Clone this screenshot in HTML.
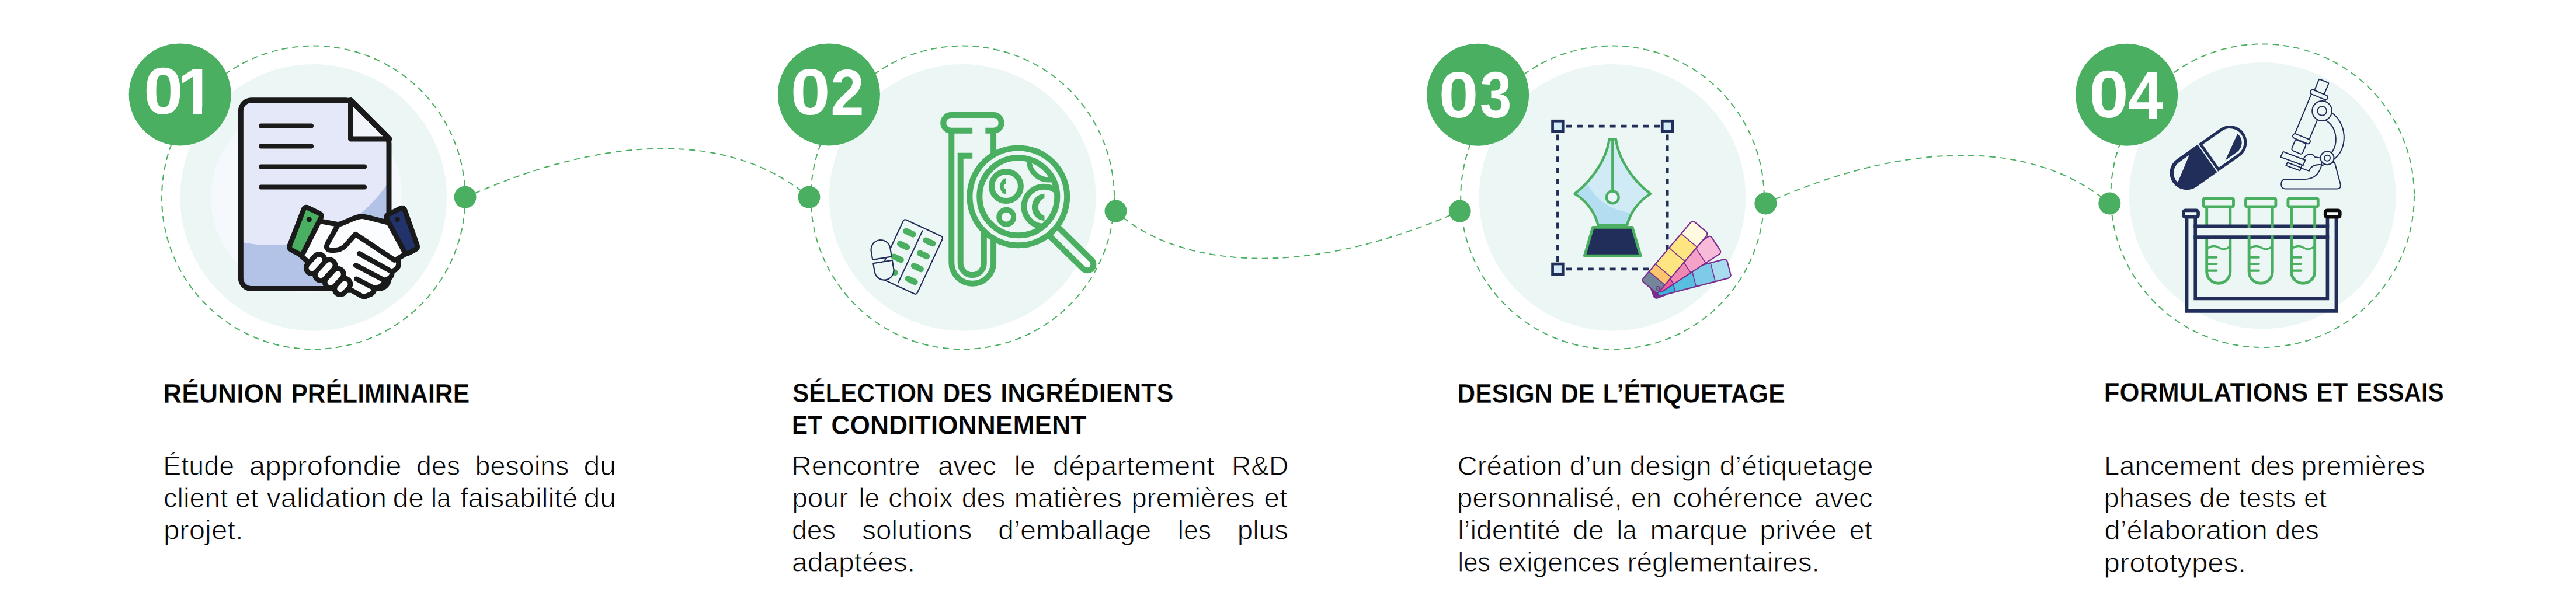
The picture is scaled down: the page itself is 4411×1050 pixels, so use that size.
<!DOCTYPE html>
<html lang="fr"><head><meta charset="utf-8"><title>Processus</title>
<style>
html,body{margin:0;padding:0;background:#fff;}
body{width:4411px;height:1050px;overflow:hidden;}
svg{display:block;}
text{font-family:"Liberation Sans",sans-serif;white-space:pre;}
</style></head><body>
<svg width="4411" height="1050" viewBox="0 0 4411 1050">
<circle cx="536.8" cy="338.4" r="259.8" fill="none" stroke="#4AAF60" stroke-width="2" stroke-linecap="round" stroke-dasharray="9 9"/>
<circle cx="536.8" cy="338.4" r="228.3" fill="#ECF7F5"/>
<circle cx="1648.2" cy="338.4" r="259.8" fill="none" stroke="#4AAF60" stroke-width="2" stroke-linecap="round" stroke-dasharray="9 9"/>
<circle cx="1648.2" cy="338.4" r="228.3" fill="#ECF7F5"/>
<circle cx="2761" cy="338.4" r="259.8" fill="none" stroke="#4AAF60" stroke-width="2" stroke-linecap="round" stroke-dasharray="9 9"/>
<circle cx="2761" cy="338.4" r="228.3" fill="#ECF7F5"/>
<circle cx="3874.2" cy="335.2" r="259.8" fill="none" stroke="#4AAF60" stroke-width="2" stroke-linecap="round" stroke-dasharray="9 9"/>
<circle cx="3874.2" cy="335.2" r="228.3" fill="#ECF7F5"/>
<path d="M797,337.7 C794.3,343.5 1159.6,147.6 1385.4,337.7" fill="none" stroke="#4AAF60" stroke-width="2" stroke-linecap="round" stroke-dasharray="9 9"/>
<path d="M1910.5,361.6 C2000,445.5 2206.4,491.4 2499.7,361.6" fill="none" stroke="#4AAF60" stroke-width="2" stroke-linecap="round" stroke-dasharray="9 9"/>
<path d="M3023.4,348.5 C3044.9,339.6 3393.6,167.7 3612.3,348.5" fill="none" stroke="#4AAF60" stroke-width="2" stroke-linecap="round" stroke-dasharray="9 9"/>
<circle cx="796.5" cy="337.7" r="19" fill="#4AAF60"/>
<circle cx="1385.4" cy="337.7" r="19" fill="#4AAF60"/>
<circle cx="1910.5" cy="361.6" r="19" fill="#4AAF60"/>
<circle cx="2499.7" cy="361.6" r="19" fill="#4AAF60"/>
<circle cx="3023.4" cy="348.5" r="19" fill="#4AAF60"/>
<circle cx="3612.3" cy="348.5" r="19" fill="#4AAF60"/>
<circle cx="308.2" cy="161.9" r="87.5" fill="#4AAF60"/>
<circle cx="1419.4" cy="161.9" r="87.5" fill="#4AAF60"/>
<circle cx="2530.6" cy="162.2" r="87.5" fill="#4AAF60"/>
<circle cx="3641.6" cy="162.2" r="87.5" fill="#4AAF60"/>
<circle cx="525" cy="338" r="164" fill="#F5F8FC"/>
<clipPath id="docclip"><path d="M430.3,171.8 H592 Q600,171.8 606,177 L660.5,231.5 Q666,237 666,246 V476.5 a18,18 0 0 1 -18,18 H430.3 a18,18 0 0 1 -18,-18 V189.8 a18,18 0 0 1 18,-18 Z"/></clipPath>
<path d="M430.3,171.8 H592 Q600,171.8 606,177 L660.5,231.5 Q666,237 666,246 V476.5 a18,18 0 0 1 -18,18 H430.3 a18,18 0 0 1 -18,-18 V189.8 a18,18 0 0 1 18,-18 Z" fill="#B3C3E7"/>
<circle cx="465" cy="180" r="240" fill="#E4E8F8" clip-path="url(#docclip)"/>
<path d="M600.5,171.5 V238 H667 Z" fill="#F3F5FC" stroke="#1A1A1A" stroke-width="9" stroke-linejoin="round"/>
<path d="M430.3,171.8 H592 Q600,171.8 606,177 L660.5,231.5 Q666,237 666,246 V476.5 a18,18 0 0 1 -18,18 H430.3 a18,18 0 0 1 -18,-18 V189.8 a18,18 0 0 1 18,-18 Z" fill="none" stroke="#1A1A1A" stroke-width="9" stroke-linejoin="round"/>
<line x1="447" y1="215.6" x2="533" y2="215.6" stroke="#1A1A1A" stroke-width="8" stroke-linecap="round"/>
<line x1="447" y1="250.4" x2="533" y2="250.4" stroke="#1A1A1A" stroke-width="8" stroke-linecap="round"/>
<line x1="447" y1="285.6" x2="624" y2="285.6" stroke="#1A1A1A" stroke-width="8" stroke-linecap="round"/>
<line x1="447" y1="320.4" x2="624" y2="320.4" stroke="#1A1A1A" stroke-width="8" stroke-linecap="round"/>
<g transform="translate(490,340) scale(0.228415)" stroke-linejoin="round" stroke-linecap="round">
<path d="M200,160 L390,195 C450,180 530,128 575,135 L615,142 L800,190 L930,390 L880,425 L830,455 C852,480 846,522 812,538 L792,548 C800,575 780,600 752,608 L736,613 C738,640 715,662 682,668 L662,673 C662,700 640,722 612,726 C598,737 580,737 565,731 L490,688 L430,690 L406,678 L333,628 L260,572 L193,521 L150,463 L80,400 Z" fill="#FCFDFE" stroke="#1A1A1A" stroke-width="38"/>
<path d="M390,195 L310,338 C292,372 312,390 345,388 C395,388 418,378 442,355 L520,268 L812,462" fill="none" stroke="#1A1A1A" stroke-width="38"/>
<line x1="548" y1="413" x2="785" y2="545" stroke="#1A1A1A" stroke-width="38"/>
<line x1="522" y1="501" x2="730" y2="610" stroke="#1A1A1A" stroke-width="38"/>
<line x1="527" y1="603" x2="655" y2="670" stroke="#1A1A1A" stroke-width="38"/>
<line x1="193.0" y1="520.6" x2="247.0" y2="461.4" stroke="#1A1A1A" stroke-width="124"/>
<line x1="259.6" y1="572.5" x2="324.4" y2="501.5" stroke="#1A1A1A" stroke-width="124"/>
<line x1="333.0" y1="627.6" x2="387.0" y2="568.4" stroke="#1A1A1A" stroke-width="124"/>
<line x1="405.8" y1="677.7" x2="438.2" y2="642.3" stroke="#1A1A1A" stroke-width="124"/>
<line x1="193.0" y1="520.6" x2="247.0" y2="461.4" stroke="#FCFDFE" stroke-width="48"/>
<line x1="259.6" y1="572.5" x2="324.4" y2="501.5" stroke="#FCFDFE" stroke-width="48"/>
<line x1="333.0" y1="627.6" x2="387.0" y2="568.4" stroke="#FCFDFE" stroke-width="48"/>
<line x1="405.8" y1="677.7" x2="438.2" y2="642.3" stroke="#FCFDFE" stroke-width="48"/>
<path d="M130.6,82.3 Q140.0,58.0 163.4,69.3 L248.6,110.7 Q272.0,122.0 260.3,145.2 L129.7,404.8 Q118.0,428.0 95.1,415.6 L40.9,386.4 Q18.0,374.0 27.4,349.7 Z" fill="#4AAF60" stroke="#1A1A1A" stroke-width="38"/>
<path d="M755.3,154.9 Q743.0,132.0 766.2,120.2 L856.8,73.8 Q880.0,62.0 888.7,86.5 L981.3,347.5 Q990.0,372.0 966.9,384.0 L921.1,408.0 Q898.0,420.0 885.7,397.1 Z" fill="#22336B" stroke="#1A1A1A" stroke-width="38"/>
<circle cx="172" cy="157" r="20" fill="#1A1A1A"/><circle cx="833" cy="157" r="20" fill="#1A1A1A"/>
</g>
<g transform="translate(1558.7,440) rotate(25)">
<rect x="-37" y="-54.5" width="74" height="109" rx="4" fill="#ECF7F5" stroke="#222E5A" stroke-width="2.2"/>
<line x1="0" y1="-49" x2="0" y2="49" stroke="#222E5A" stroke-width="2.2" stroke-linecap="round"/>
<rect x="-30.5" y="-42.2" width="23.4" height="10.4" rx="5.2" fill="#4AAF60"/>
<rect x="-30.5" y="-18.0" width="23.4" height="10.4" rx="5.2" fill="#4AAF60"/>
<rect x="-30.5" y="6.2" width="23.4" height="10.4" rx="5.2" fill="#4AAF60"/>
<rect x="-30.5" y="30.4" width="23.4" height="10.4" rx="5.2" fill="#4AAF60"/>
<rect x="7.1" y="-42.2" width="23.4" height="10.4" rx="5.2" fill="#4AAF60"/>
<rect x="7.1" y="-18.0" width="23.4" height="10.4" rx="5.2" fill="#4AAF60"/>
<rect x="7.1" y="6.2" width="23.4" height="10.4" rx="5.2" fill="#4AAF60"/>
<rect x="7.1" y="30.4" width="23.4" height="10.4" rx="5.2" fill="#4AAF60"/>
</g>
<g transform="translate(1511,445.3) rotate(-9.5)" fill="#ECF7F5" stroke="#222E5A" stroke-width="2.2" stroke-linejoin="round">
<path d="M-16.5,-3.2 V-18 a16.5,16.5 0 0 1 33,0 V-3.2 Z"/>
<path d="M-16.5,3.2 V18 a16.5,16.5 0 0 0 33,0 V3.2 Z"/>
</g>
<path d="M1665.2,223.8 H1628.6 a13.35,13.35 0 0 1 0,-26.7 H1701.4 a13.35,13.35 0 0 1 0,26.7 H1687.4" fill="none" stroke="#4AAF60" stroke-width="10"/>
<path d="M1629.3,223.8 V449.8 a35.9,35.9 0 0 0 71.8,0 V223.8" fill="none" stroke="#4AAF60" stroke-width="10"/>
<path d="M1665.2,266.8 H1644.7 V451 a20.05,20.05 0 0 0 40.1,0 V380" fill="none" stroke="#4AAF60" stroke-width="10"/>
<g transform="translate(1743.8,336.8) rotate(44.5)"><rect x="70" y="-10.5" width="106" height="21" rx="10.5" fill="none" stroke="#4AAF60" stroke-width="10"/></g>
<circle cx="1743.8" cy="336.8" r="83.4" fill="#ECF7F5" stroke="#4AAF60" stroke-width="10"/>
<clipPath id="lens"><circle cx="1743.8" cy="336.8" r="66.5"/></clipPath>
<g clip-path="url(#lens)">
<circle cx="1722.9" cy="319" r="25" fill="none" stroke="#4AAF60" stroke-width="10"/>
<circle cx="1723.2" cy="371.7" r="12.5" fill="none" stroke="#4AAF60" stroke-width="9"/>
<circle cx="1787.5" cy="353.8" r="34" fill="none" stroke="#4AAF60" stroke-width="10"/>
<circle cx="1796" cy="274" r="34" fill="none" stroke="#4AAF60" stroke-width="9"/>
<g transform="translate(1600,170) scale(0.32605)" fill="#4AAF60"><path d="M376,415 C335,420 335,495 376,500 L376,472 C360,466 360,450 376,444 Z"/></g>
<g transform="translate(1600,300) scale(0.32605)" fill="#4AAF60"><path d="M578,97 C490,105 490,232 578,240 L578,214 C535,200 535,135 578,122 Z"/></g>
</g>
<circle cx="1743.8" cy="336.8" r="66.5" fill="none" stroke="#4AAF60" stroke-width="10"/>
<path d="M2681.2,216.1 H2843" stroke="#222E5A" stroke-width="4.7" stroke-dasharray="9.8 9.1" fill="none"/>
<path d="M2681.2,460.9 H2843" stroke="#222E5A" stroke-width="4.7" stroke-dasharray="9.8 9.1" fill="none"/>
<path d="M2667.4,230.4 V449" stroke="#222E5A" stroke-width="4.7" stroke-dasharray="9.8 9.1" fill="none"/>
<path d="M2855.2,230.4 V449" stroke="#222E5A" stroke-width="4.7" stroke-dasharray="9.8 9.1" fill="none"/>
<rect x="2658.55" y="207.25" width="17.7" height="17.7" fill="#D3ECF7" stroke="#222E5A" stroke-width="4.7"/>
<rect x="2846.25" y="207.25" width="17.7" height="17.7" fill="#D3ECF7" stroke="#222E5A" stroke-width="4.7"/>
<rect x="2658.55" y="452.05" width="17.7" height="17.7" fill="#D3ECF7" stroke="#222E5A" stroke-width="4.7"/>
<clipPath id="nibc"><path d="M2755.6,238.5 H2767 C2770,262 2785,300 2826,332 C2806,345 2792,362 2786,386 H2736.6 C2730.6,362 2717.6,345 2696.6,332 C2736.6,300 2752.6,262 2755.6,238.5 Z"/></clipPath>
<path d="M2755.6,238.5 H2767 C2770,262 2785,300 2826,332 C2806,345 2792,362 2786,386 H2736.6 C2730.6,362 2717.6,345 2696.6,332 C2736.6,300 2752.6,262 2755.6,238.5 Z" fill="#D0EAF6"/>
<path d="M2690,296 L2712,296 C2722,335 2750,360 2800,366 L2800,392 L2690,392 Z" fill="#B3DDF0" clip-path="url(#nibc)"/>
<path d="M2755.6,238.5 H2767 C2770,262 2785,300 2826,332 C2806,345 2792,362 2786,386 H2736.6 C2730.6,362 2717.6,345 2696.6,332 C2736.6,300 2752.6,262 2755.6,238.5 Z" fill="none" stroke="#4AAF60" stroke-width="4.3" stroke-linejoin="round"/>
<line x1="2761.3" y1="239" x2="2761.3" y2="328" stroke="#4AAF60" stroke-width="4.3"/>
<circle cx="2761.3" cy="337.9" r="10.4" fill="#E9F4FB" stroke="#4AAF60" stroke-width="4.3"/>
<path d="M2727.5,389.3 H2795.1 L2809.3,438 H2713.3 Z" fill="#222E5A" stroke="#4AAF60" stroke-width="4.7" stroke-linejoin="round"/>
<g transform="translate(2790,360) scale(0.27739)">
<path d="M135,488 L151,533 Q158,546 174,542 L226,523 L190,490 Z" fill="#7B2D8E" stroke="#7B2D8E" stroke-width="8" stroke-linejoin="round"/>
<g transform="translate(150,417) rotate(-14.6)">
<clipPath id="swb"><rect x="0" y="0" width="465" height="119" rx="18"/></clipPath>
<g clip-path="url(#swb)">
<rect x="0.0" y="-5" width="108.0" height="129" fill="#38B4DC"/>
<rect x="107.0" y="-5" width="134.0" height="129" fill="#58BFE1"/>
<rect x="239.9" y="-5" width="123.8" height="129" fill="#7DCBE8"/>
<rect x="362.7" y="-5" width="103.3" height="129" fill="#A9DCEF"/>
<line x1="107.0" y1="0" x2="107.0" y2="119" stroke="#7B2D8E" stroke-width="6"/>
<line x1="239.9" y1="0" x2="239.9" y2="119" stroke="#7B2D8E" stroke-width="6"/>
<line x1="362.7" y1="0" x2="362.7" y2="119" stroke="#7B2D8E" stroke-width="6"/>
</g>
<rect x="0" y="0" width="465" height="119" rx="18" fill="none" stroke="#7B2D8E" stroke-width="8"/>
</g>
<g transform="translate(123.4,401.4) rotate(-33.2)">
<clipPath id="swp"><rect x="0" y="0" width="450" height="128" rx="18"/></clipPath>
<g clip-path="url(#swp)">
<rect x="0.0" y="-5" width="96.8" height="138" fill="#EF5F9B"/>
<rect x="95.8" y="-5" width="127.0" height="138" fill="#F088B6"/>
<rect x="221.8" y="-5" width="111.2" height="138" fill="#F4A2C8"/>
<rect x="332.1" y="-5" width="118.9" height="138" fill="#F7BAD8"/>
<line x1="95.8" y1="0" x2="95.8" y2="128" stroke="#7B2D8E" stroke-width="6"/>
<line x1="221.8" y1="0" x2="221.8" y2="128" stroke="#7B2D8E" stroke-width="6"/>
<line x1="332.1" y1="0" x2="332.1" y2="128" stroke="#7B2D8E" stroke-width="6"/>
</g>
<rect x="0" y="0" width="450" height="128" rx="18" fill="none" stroke="#7B2D8E" stroke-width="8"/>
</g>
<g transform="translate(74.7,434.2) rotate(-49.7)">
<clipPath id="swy"><rect x="0" y="0" width="488" height="128" rx="18"/></clipPath>
<g clip-path="url(#swy)">
<rect x="0.0" y="-5" width="73.7" height="138" fill="#74879A"/>
<rect x="72.7" y="-5" width="62.5" height="138" fill="#FCC56D"/>
<rect x="134.2" y="-5" width="130.8" height="138" fill="#FDE681"/>
<rect x="264.0" y="-5" width="116.2" height="138" fill="#FDE681"/>
<rect x="379.2" y="-5" width="109.8" height="138" fill="#FFF9E0"/>
<line x1="72.7" y1="0" x2="72.7" y2="128" stroke="#7B2D8E" stroke-width="6"/>
<line x1="134.2" y1="0" x2="134.2" y2="128" stroke="#7B2D8E" stroke-width="6"/>
<line x1="264.0" y1="0" x2="264.0" y2="128" stroke="#7B2D8E" stroke-width="6"/>
<line x1="379.2" y1="0" x2="379.2" y2="128" stroke="#7B2D8E" stroke-width="6"/>
</g>
<rect x="0" y="0" width="488" height="128" rx="18" fill="none" stroke="#7B2D8E" stroke-width="8"/>
</g>
<circle cx="176" cy="482.5" r="11.5" fill="#74879A" stroke="#7B2D8E" stroke-width="5"/><circle cx="176" cy="482.5" r="4" fill="#5C7088"/>
</g>
<g transform="translate(3781.4,270.15) rotate(-35.2)">
<path d="M-2,-29 H-45.2 a29,29 0 0 0 0,58 H-2 Z" fill="#222E5A"/>
<path d="M-24,-22.5 H-45.2 A22.5,22.5 0 0 0 -67.2,4.5 Z" fill="#ECF7F5"/>
<path d="M2.5,-26.5 H45.2 a26.5,26.5 0 0 1 0,53 H2.5 Z" fill="none" stroke="#222E5A" stroke-width="5" stroke-linejoin="miter"/>
<path d="M64.6,-4.7 A20,20 0 0 1 45.2,20.5 H21 Z" fill="#222E5A"/>
</g>
<g transform="translate(3720,320) scale(0.37515)">
<clipPath id="tclip"><rect x="300" y="0" width="400" height="187"/><rect x="300" y="222" width="400" height="300"/></clipPath>
<rect x="141.5" y="53.5" width="137" height="37" rx="6" fill="none" stroke="#4AAF60" stroke-width="13"/>
<path d="M156.5,97 V387 a53.5,53.5 0 0 0 107,0 V97" fill="none" stroke="#4AAF60" stroke-width="13"/>
<path d="M161,280 C183,268 195,268 211,277 S239,290 259,274" fill="none" stroke="#4AAF60" stroke-width="9"/>
<line x1="161" y1="322" x2="201" y2="322" stroke="#4AAF60" stroke-width="11" stroke-linecap="round"/>
<line x1="161" y1="352" x2="201" y2="352" stroke="#4AAF60" stroke-width="11" stroke-linecap="round"/>
<line x1="161" y1="383" x2="201" y2="383" stroke="#4AAF60" stroke-width="11" stroke-linecap="round"/>
<rect x="105" y="180" width="600" height="50" fill="#ECF7F5"/>
<path d="M97,179.5 H715 M97,229.5 H715" stroke="#222E5A" stroke-width="15" fill="none"/>
<g clip-path="url(#tclip)"><rect x="334.5" y="53.5" width="137" height="37" rx="6" fill="none" stroke="#4AAF60" stroke-width="13"/>
<path d="M349.5,97 V387 a53.5,53.5 0 0 0 107,0 V97" fill="none" stroke="#4AAF60" stroke-width="13"/>
<path d="M354,280 C376,268 388,268 404,277 S432,290 452,274" fill="none" stroke="#4AAF60" stroke-width="9"/>
<line x1="354" y1="322" x2="394" y2="322" stroke="#4AAF60" stroke-width="11" stroke-linecap="round"/>
<line x1="354" y1="352" x2="394" y2="352" stroke="#4AAF60" stroke-width="11" stroke-linecap="round"/>
<line x1="354" y1="383" x2="394" y2="383" stroke="#4AAF60" stroke-width="11" stroke-linecap="round"/><rect x="527.5" y="53.5" width="137" height="37" rx="6" fill="none" stroke="#4AAF60" stroke-width="13"/>
<path d="M542.5,97 V387 a53.5,53.5 0 0 0 107,0 V97" fill="none" stroke="#4AAF60" stroke-width="13"/>
<path d="M547,280 C569,268 581,268 597,277 S625,290 645,274" fill="none" stroke="#4AAF60" stroke-width="9"/>
<line x1="547" y1="322" x2="587" y2="322" stroke="#4AAF60" stroke-width="11" stroke-linecap="round"/>
<line x1="547" y1="352" x2="587" y2="352" stroke="#4AAF60" stroke-width="11" stroke-linecap="round"/>
<line x1="547" y1="383" x2="587" y2="383" stroke="#4AAF60" stroke-width="11" stroke-linecap="round"/></g>
<path d="M65.5,135 V567.5 H747.5 V135" stroke="#222E5A" stroke-width="15" fill="none"/>
<path d="M104.5,135 V510.5 H707.5 V135" stroke="#222E5A" stroke-width="15" fill="none"/>
<rect x="50.5" y="107.5" width="67" height="30" rx="8" fill="#F4FAFA" stroke="#222E5A" stroke-width="15"/>
<rect x="697.5" y="107.5" width="67" height="30" rx="8" fill="#F4FAFA" stroke="#0A0A0A" stroke-width="15"/>
</g>
<g transform="translate(3890,120) scale(0.35874)" fill="#ECF7F5" stroke="#222E5A" stroke-width="5.6" stroke-linejoin="round" stroke-linecap="round">
<path d="M280,200 C362,250 365,375 298,425 L283,398 C318,355 315,275 258,240 Z"/>
<path d="M238,455 C225,500 200,522 150,522 H65 Q45,522 45,545 Q45,567 65,567 H312 Q332,567 328,545 L300,440 Z"/>
<g transform="translate(130,365) rotate(22.5)"><rect x="-28" y="-25" width="56" height="55" rx="10"/></g>
<g transform="translate(184,223) rotate(22.5)"><rect x="-37" y="-110" width="74" height="220" rx="4"/></g>
<g transform="translate(238,80) rotate(22.5)"><rect x="-25" y="-30" width="50" height="60" rx="5"/></g>
<g transform="translate(226,118) rotate(22.5)"><rect x="-44" y="-11" width="88" height="22" rx="10"/></g>
<g transform="translate(142,328) rotate(22.5)"><rect x="-44" y="-11" width="88" height="22" rx="10"/></g>
<path d="M150,430 C160,398 195,395 205,415 L236,420 L238,452 C200,448 185,462 178,482 L140,468 Z"/>
<path d="M55,390 L160,430 L150,455 L42,415 Z"/>
<path d="M75,442 L140,466 L135,480 L68,456 Z"/>
<circle cx="240" cy="195" r="47"/><circle cx="240" cy="195" r="22"/>
<circle cx="265" cy="420" r="32"/><circle cx="265" cy="420" r="14"/>
</g>
<text font-weight="700" font-size="46" fill="#050505" stroke="#fff" stroke-width="0.35"><tspan x="279.3" y="689.6" textLength="204.8" lengthAdjust="spacingAndGlyphs">RÉUNION</tspan> <tspan x="498.4" y="689.6" textLength="305.7" lengthAdjust="spacingAndGlyphs">PRÉLIMINAIRE</tspan></text>
<text font-weight="700" font-size="46" fill="#050505" stroke="#fff" stroke-width="0.35"><tspan x="1356.9" y="689.2" textLength="242.6" lengthAdjust="spacingAndGlyphs">SÉLECTION</tspan> <tspan x="1614.7" y="689.2" textLength="84.1" lengthAdjust="spacingAndGlyphs">DES</tspan> <tspan x="1713.2" y="689.2" textLength="296.3" lengthAdjust="spacingAndGlyphs">INGRÉDIENTS</tspan></text>
<text font-weight="700" font-size="46" fill="#050505" stroke="#fff" stroke-width="0.35"><tspan x="1356.1" y="743.8" textLength="51.9" lengthAdjust="spacingAndGlyphs">ET</tspan> <tspan x="1423.3" y="743.8" textLength="437.1" lengthAdjust="spacingAndGlyphs">CONDITIONNEMENT</tspan></text>
<text font-weight="700" font-size="46" fill="#050505" stroke="#fff" stroke-width="0.35"><tspan x="2495.6" y="689.5" textLength="162.8" lengthAdjust="spacingAndGlyphs">DESIGN</tspan> <tspan x="2672.5" y="689.5" textLength="58.2" lengthAdjust="spacingAndGlyphs">DE</tspan> <tspan x="2744.6" y="689.5" textLength="312.2" lengthAdjust="spacingAndGlyphs">L’ÉTIQUETAGE</tspan></text>
<text font-weight="700" font-size="46" fill="#050505" stroke="#fff" stroke-width="0.35"><tspan x="3602.8" y="688.0" textLength="349.5" lengthAdjust="spacingAndGlyphs">FORMULATIONS</tspan> <tspan x="3966.4" y="688.0" textLength="54.0" lengthAdjust="spacingAndGlyphs">ET</tspan> <tspan x="4034.7" y="688.0" textLength="150.1" lengthAdjust="spacingAndGlyphs">ESSAIS</tspan></text>
<text font-size="46" fill="#080808" stroke="#fff" stroke-width="0.8"><tspan x="279.2" y="814.3" textLength="121.9" lengthAdjust="spacingAndGlyphs">Étude</tspan> <tspan x="426.7" y="814.3" textLength="260.7" lengthAdjust="spacingAndGlyphs">approfondie</tspan> <tspan x="713.0" y="814.3" textLength="75.1" lengthAdjust="spacingAndGlyphs">des</tspan> <tspan x="813.6" y="814.3" textLength="160.8" lengthAdjust="spacingAndGlyphs">besoins</tspan> <tspan x="999.4" y="814.3" textLength="55.9" lengthAdjust="spacingAndGlyphs">du</tspan></text>
<text font-size="46" fill="#080808" stroke="#fff" stroke-width="0.8"><tspan x="280.0" y="869.2" textLength="110.1" lengthAdjust="spacingAndGlyphs">client</tspan> <tspan x="402.4" y="869.2" textLength="40.0" lengthAdjust="spacingAndGlyphs">et</tspan> <tspan x="456.5" y="869.2" textLength="205.7" lengthAdjust="spacingAndGlyphs">validation</tspan> <tspan x="672.6" y="869.2" textLength="53.2" lengthAdjust="spacingAndGlyphs">de</tspan> <tspan x="738.4" y="869.2" textLength="33.4" lengthAdjust="spacingAndGlyphs">la</tspan> <tspan x="788.2" y="869.2" textLength="201.2" lengthAdjust="spacingAndGlyphs">faisabilité</tspan> <tspan x="999.4" y="869.2" textLength="55.9" lengthAdjust="spacingAndGlyphs">du</tspan></text>
<text font-size="46" fill="#080808" stroke="#fff" stroke-width="0.8"><tspan x="279.9" y="923.8" textLength="136.8" lengthAdjust="spacingAndGlyphs">projet.</tspan></text>
<text font-size="46" fill="#080808" stroke="#fff" stroke-width="0.8"><tspan x="1355.3" y="814.3" textLength="220.4" lengthAdjust="spacingAndGlyphs">Rencontre</tspan> <tspan x="1605.9" y="814.3" textLength="99.9" lengthAdjust="spacingAndGlyphs">avec</tspan> <tspan x="1736.7" y="814.3" textLength="35.8" lengthAdjust="spacingAndGlyphs">le</tspan> <tspan x="1802.8" y="814.3" textLength="276.7" lengthAdjust="spacingAndGlyphs">département</tspan> <tspan x="2109.0" y="814.3" textLength="97.3" lengthAdjust="spacingAndGlyphs">R&amp;D</tspan></text>
<text font-size="46" fill="#080808" stroke="#fff" stroke-width="0.8"><tspan x="1356.2" y="869.2" textLength="96.0" lengthAdjust="spacingAndGlyphs">pour</tspan> <tspan x="1470.4" y="869.2" textLength="35.8" lengthAdjust="spacingAndGlyphs">le</tspan> <tspan x="1521.1" y="869.2" textLength="110.5" lengthAdjust="spacingAndGlyphs">choix</tspan> <tspan x="1646.7" y="869.2" textLength="74.6" lengthAdjust="spacingAndGlyphs">des</tspan> <tspan x="1736.6" y="869.2" textLength="184.6" lengthAdjust="spacingAndGlyphs">matières</tspan> <tspan x="1937.4" y="869.2" textLength="211.0" lengthAdjust="spacingAndGlyphs">premières</tspan> <tspan x="2164.6" y="869.2" textLength="39.7" lengthAdjust="spacingAndGlyphs">et</tspan></text>
<text font-size="46" fill="#080808" stroke="#fff" stroke-width="0.8"><tspan x="1355.9" y="924.0" textLength="75.1" lengthAdjust="spacingAndGlyphs">des</tspan> <tspan x="1476.3" y="924.0" textLength="188.0" lengthAdjust="spacingAndGlyphs">solutions</tspan> <tspan x="1709.1" y="924.0" textLength="262.2" lengthAdjust="spacingAndGlyphs">d’emballage</tspan> <tspan x="2017.0" y="924.0" textLength="57.0" lengthAdjust="spacingAndGlyphs">les</tspan> <tspan x="2118.8" y="924.0" textLength="87.1" lengthAdjust="spacingAndGlyphs">plus</tspan></text>
<text font-size="46" fill="#080808" stroke="#fff" stroke-width="0.8"><tspan x="1355.9" y="978.6" textLength="211.2" lengthAdjust="spacingAndGlyphs">adaptées.</tspan></text>
<text font-size="46" fill="#080808" stroke="#fff" stroke-width="0.8"><tspan x="2495.4" y="814.3" textLength="179.6" lengthAdjust="spacingAndGlyphs">Création</tspan> <tspan x="2687.6" y="814.3" textLength="90.3" lengthAdjust="spacingAndGlyphs">d’un</tspan> <tspan x="2790.8" y="814.3" textLength="140.0" lengthAdjust="spacingAndGlyphs">design</tspan> <tspan x="2944.5" y="814.3" textLength="263.1" lengthAdjust="spacingAndGlyphs">d’étiquetage</tspan></text>
<text font-size="46" fill="#080808" stroke="#fff" stroke-width="0.8"><tspan x="2494.9" y="869.2" textLength="282.7" lengthAdjust="spacingAndGlyphs">personnalisé,</tspan> <tspan x="2792.8" y="869.2" textLength="52.2" lengthAdjust="spacingAndGlyphs">en</tspan> <tspan x="2864.2" y="869.2" textLength="223.0" lengthAdjust="spacingAndGlyphs">cohérence</tspan> <tspan x="3106.9" y="869.2" textLength="99.8" lengthAdjust="spacingAndGlyphs">avec</tspan></text>
<text font-size="46" fill="#080808" stroke="#fff" stroke-width="0.8"><tspan x="2496.2" y="924.0" textLength="175.8" lengthAdjust="spacingAndGlyphs">l’identité</tspan> <tspan x="2692.9" y="924.0" textLength="53.9" lengthAdjust="spacingAndGlyphs">de</tspan> <tspan x="2768.5" y="924.0" textLength="34.3" lengthAdjust="spacingAndGlyphs">la</tspan> <tspan x="2825.2" y="924.0" textLength="167.0" lengthAdjust="spacingAndGlyphs">marque</tspan> <tspan x="3013.3" y="924.0" textLength="131.9" lengthAdjust="spacingAndGlyphs">privée</tspan> <tspan x="3166.8" y="924.0" textLength="38.9" lengthAdjust="spacingAndGlyphs">et</tspan></text>
<text font-size="46" fill="#080808" stroke="#fff" stroke-width="0.8"><tspan x="2496.5" y="978.6" textLength="55.6" lengthAdjust="spacingAndGlyphs">les</tspan> <tspan x="2565.3" y="978.6" textLength="208.3" lengthAdjust="spacingAndGlyphs">exigences</tspan> <tspan x="2786.5" y="978.6" textLength="329.3" lengthAdjust="spacingAndGlyphs">réglementaires.</tspan></text>
<text font-size="46" fill="#080808" stroke="#fff" stroke-width="0.8"><tspan x="3603.0" y="814.3" textLength="233.5" lengthAdjust="spacingAndGlyphs">Lancement</tspan> <tspan x="3853.8" y="814.3" textLength="75.4" lengthAdjust="spacingAndGlyphs">des</tspan> <tspan x="3940.6" y="814.3" textLength="212.1" lengthAdjust="spacingAndGlyphs">premières</tspan></text>
<text font-size="46" fill="#080808" stroke="#fff" stroke-width="0.8"><tspan x="3602.7" y="868.8" textLength="150.5" lengthAdjust="spacingAndGlyphs">phases</tspan> <tspan x="3766.0" y="868.8" textLength="53.4" lengthAdjust="spacingAndGlyphs">de</tspan> <tspan x="3834.0" y="868.8" textLength="97.2" lengthAdjust="spacingAndGlyphs">tests</tspan> <tspan x="3945.0" y="868.8" textLength="39.1" lengthAdjust="spacingAndGlyphs">et</tspan></text>
<text font-size="46" fill="#080808" stroke="#fff" stroke-width="0.8"><tspan x="3603.5" y="924.0" textLength="279.5" lengthAdjust="spacingAndGlyphs">d’élaboration</tspan> <tspan x="3896.3" y="924.0" textLength="74.5" lengthAdjust="spacingAndGlyphs">des</tspan></text>
<text font-size="46" fill="#080808" stroke="#fff" stroke-width="0.8"><tspan x="3602.5" y="979.5" textLength="243.5" lengthAdjust="spacingAndGlyphs">prototypes.</tspan></text>
<text font-weight="700" font-size="113.3" fill="#fff"><tspan x="246.0" y="194.6" textLength="67.6" lengthAdjust="spacingAndGlyphs">0</tspan><tspan x="304.3" y="195.7">1</tspan></text><rect x="307.5" y="183.5" width="22.7" height="15.2" fill="#4AAF60"/><rect x="346.0" y="183.5" width="24" height="15.2" fill="#4AAF60"/>
<text font-weight="700" font-size="111.7" fill="#fff"><tspan x="1353.8" y="195.8" textLength="67.8" lengthAdjust="spacingAndGlyphs">0</tspan><tspan x="1422.2" y="196.9" textLength="57.4" lengthAdjust="spacingAndGlyphs">2</tspan></text>
<text font-weight="700" font-size="111.5" fill="#fff"><tspan x="2463.8" y="200.7" textLength="67.8" lengthAdjust="spacingAndGlyphs">0</tspan><tspan x="2534.0" y="200.7" textLength="54.4" lengthAdjust="spacingAndGlyphs">3</tspan></text>
<text font-weight="700" font-size="114.3" fill="#fff"><tspan x="3577.2" y="201.4" textLength="67.6" lengthAdjust="spacingAndGlyphs">0</tspan><tspan x="3643.9" y="202.5" textLength="60.4" lengthAdjust="spacingAndGlyphs">4</tspan></text>
</svg>
</body></html>
